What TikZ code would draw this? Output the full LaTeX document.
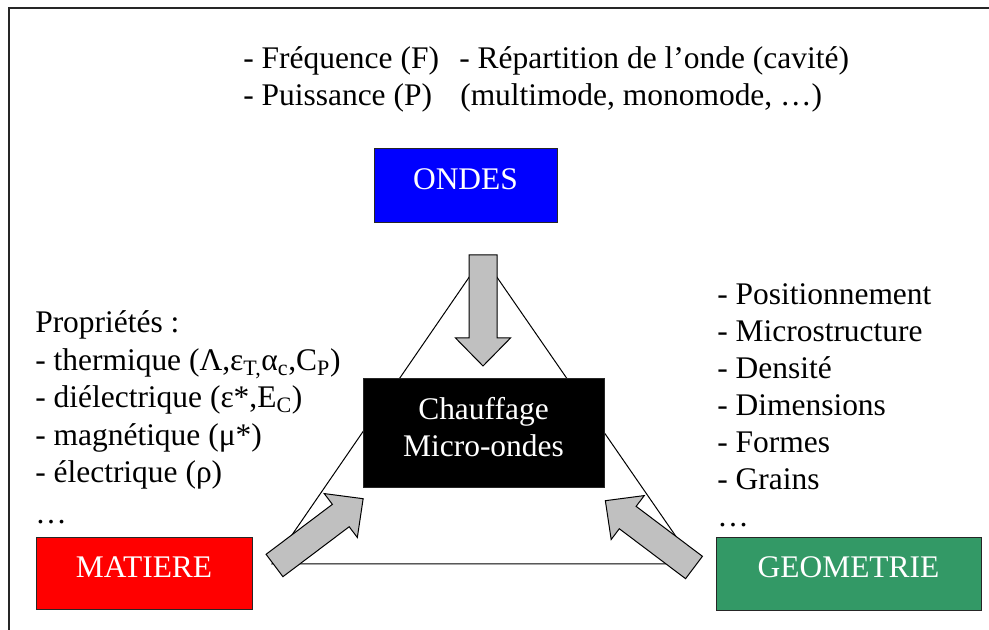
\documentclass[tikz,border=0pt]{standalone}
\usepackage{fontspec}
\setmainfont{Liberation Serif}
\definecolor{ondcol}{HTML}{0000FF}
\definecolor{matcol}{HTML}{FF0000}
\definecolor{geocol}{HTML}{339966}
\definecolor{arrcol}{HTML}{C0C0C0}

\begin{document}
\begin{tikzpicture}[x=0.75pt, y=-0.75pt,
  box/.style={draw=black!85, line width=0.6pt, text=white, align=center,
              text depth=9pt, font=\fontsize{23.6}{27.75}\selectfont},
  item/.style={inner sep=0pt, anchor=base west,
               font=\fontsize{23.6}{27.75}\selectfont},
  fatarrow/.style={draw=black, fill=arrcol, line width=0.75pt, line join=miter}]
  \useasboundingbox (0,0) rectangle (989,630);
  \draw[line width=1.5pt, black!85] (9,630) -- (9,8) -- (989,8);

  % triangle
  \coordinate (top) at (483,257);
  \coordinate (bl) at (272,564);
  \coordinate (br) at (695,564);
  \draw[line width=0.75pt] (top) -- (bl) -- (br) -- cycle;

  % boxes
  \node[box, fill=ondcol, minimum width=183*0.75pt, minimum height=74*0.75pt] (ondes) at (465.5,185) {ONDES};
  \node[box, fill=black, minimum width=241*0.75pt, minimum height=109*0.75pt] (chauf) at (483.5,432.5) {Chauffage\\Micro-ondes};
  \node[box, fill=matcol, minimum width=216*0.75pt, minimum height=72*0.75pt] (mat) at (144,573) {MATIERE};
  \node[box, fill=geocol, minimum width=265*0.75pt, minimum height=73*0.75pt] (geo) at (848.5,573.5) {GEOMETRIE};

  % big arrows
  \coordinate (ondtail) at (483,255);
  \coordinate (mattail) at (274.5,565.5);
  \coordinate (geotail) at (694,567.5);
  \foreach \t/\ang in {ondtail/-90, mattail/37, geotail/143}
    \draw[fatarrow, shift={(\t)}, rotate=\ang]
      (0,-14) -- (83,-14) -- (83,-27.5) -- (111,0) -- (83,27.5) -- (83,14) -- (0,14) -- cycle;

  % texts
  \node[item] (freq) at (243,69) {- Fréquence (F)};
  \node[item] (puis) at (243,106) {- Puissance (P)};
  \node[item] (repart) at (459,69) {- Répartition de l’onde (cavité)};
  \node[item] (mode) at (460,106) {(multimode, monomode, …)};

  \node[item] (prop) at (35,333) {Propriétés :};
  \node[item] (therm) at (35,371) {- thermique (Λ,ε\textsubscript{T,}α\textsubscript{c},C\textsubscript{P})};
  \node[item] (diel) at (35,408) {- diélectrique (ε*,E\textsubscript{C})};
  \node[item] (magn) at (35,446) {- magnétique (μ*)};
  \node[item] (elec) at (35,483) {- électrique (ρ)};
  \node[item] (mdots) at (35,524) {…};

  \foreach \txt [count=\i] in {Positionnement, Microstructure, Densité, Dimensions, Formes, Grains}
    \node[item] (geo\i) at (717,268+37*\i) {- \txt};
  \node[item] (gdots) at (717,527) {…};
\end{tikzpicture}
\end{document}
